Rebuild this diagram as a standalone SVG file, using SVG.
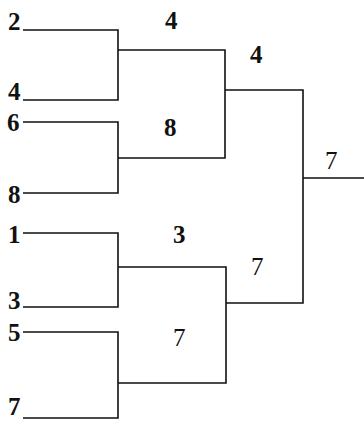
<svg xmlns="http://www.w3.org/2000/svg" width="364" height="421" viewBox="0 0 364 421">
<style>
.t{font-family:'Liberation Serif',Times,serif;font-size:25px;fill:#111;font-weight:bold}
.n{font-weight:normal}
.c{fill:none;stroke:#111;stroke-width:1.6}
</style>
<rect width="364" height="421" fill="#fff"/>
<g id="connectors" class="c">
<path d="M23,30H118V100H23"/>
<path d="M23,122H118V193H23"/>
<path d="M23,233H118V307H23"/>
<path d="M23,332H118V418H23"/>
<path d="M118,50H225V158H118"/>
<path d="M118,267H226V383H118"/>
<path d="M225,90H303V303H226"/>
<path d="M303,178H364"/>
</g>
<g id="leaf-2"><text class="t" x="8" y="30">2</text></g>
<g id="leaf-4"><text class="t" x="8" y="100">4</text></g>
<g id="leaf-6"><text class="t" x="7" y="131">6</text></g>
<g id="leaf-8"><text class="t" x="8" y="203">8</text></g>
<g id="leaf-1"><text class="t" x="8" y="243">1</text></g>
<g id="leaf-3"><text class="t" x="8" y="309">3</text></g>
<g id="leaf-5"><text class="t" x="8" y="341">5</text></g>
<g id="leaf-7"><text class="t" x="8" y="415">7</text></g>
<g id="match-4a"><text class="t" x="165" y="29">4</text></g>
<g id="match-8"><text class="t" x="164" y="136">8</text></g>
<g id="match-3"><text class="t" x="173" y="243">3</text></g>
<g id="match-7a"><text class="t n" x="173" y="346">7</text></g>
<g id="match-4b"><text class="t" x="250" y="63">4</text></g>
<g id="match-7b"><text class="t n" x="251" y="275">7</text></g>
<g id="match-7c"><text class="t n" x="325" y="169">7</text></g>
</svg>
